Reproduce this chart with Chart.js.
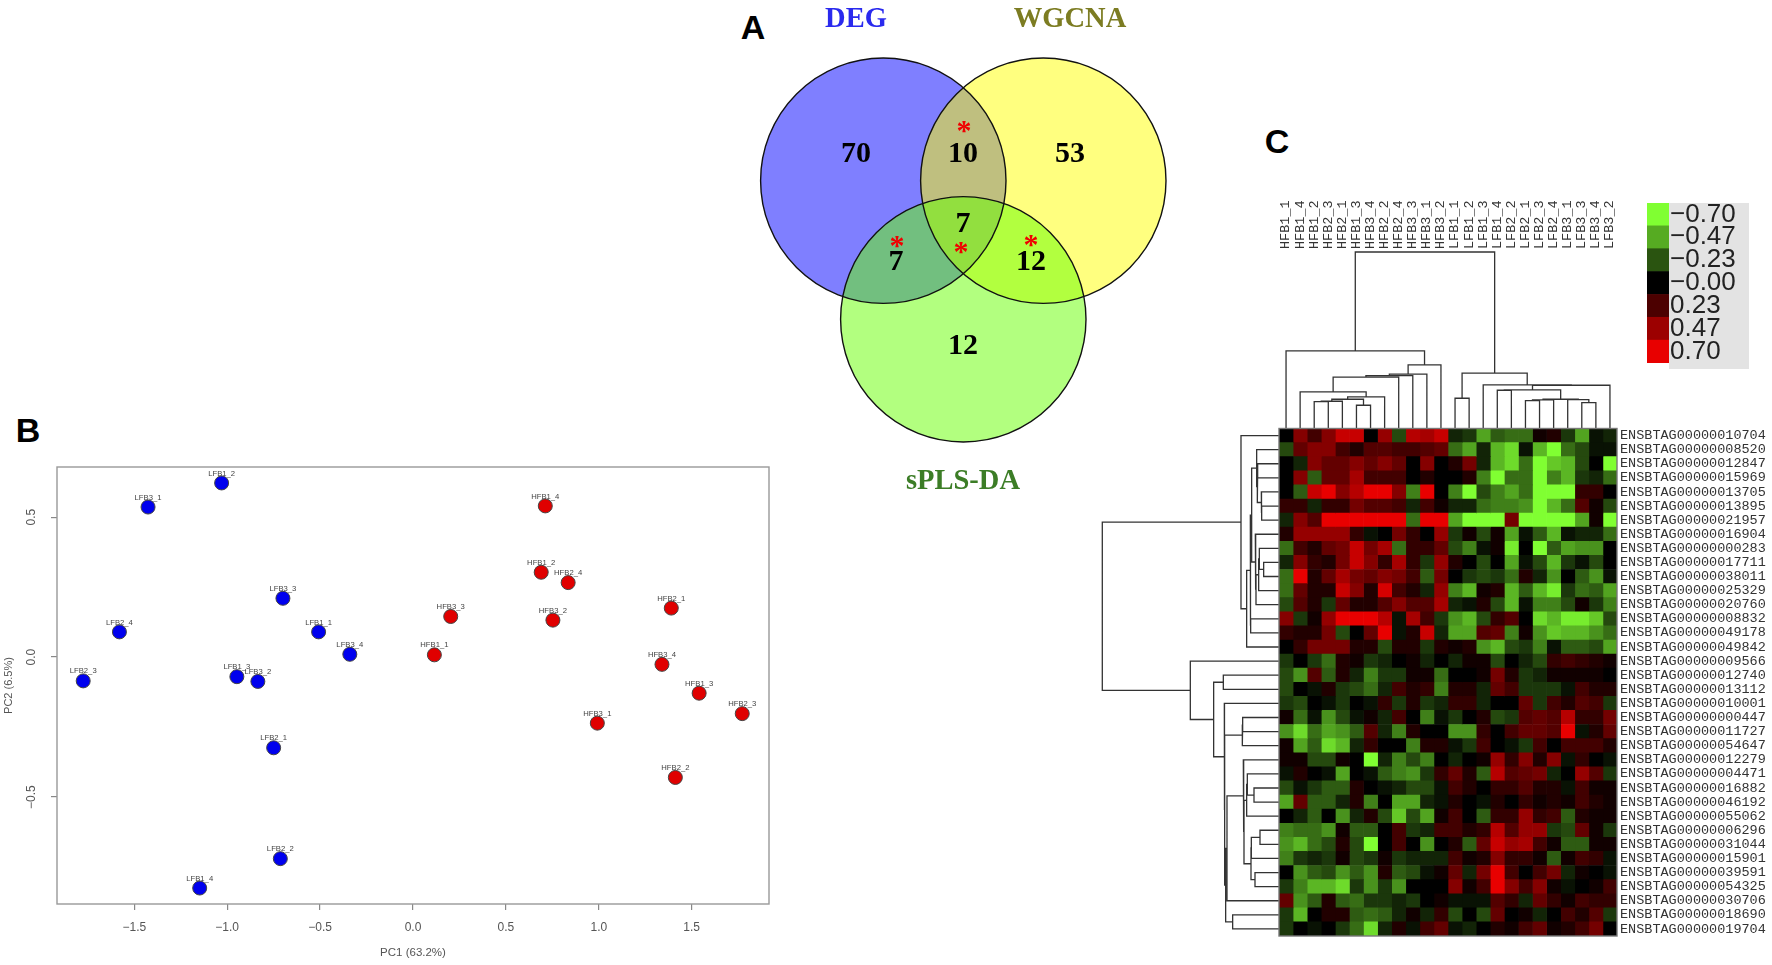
<!DOCTYPE html>
<html>
<head>
<meta charset="utf-8">
<script src="https://cdn.jsdelivr.net/npm/chart.js@4"></script>
<style>
html,body{margin:0;padding:0;background:#fff;}
#page{position:relative;width:1772px;height:965px;overflow:hidden;background:#fff;}
#page canvas{position:absolute;filter:blur(0.45px);}
.panel{position:absolute;font:bold 34px "Liberation Sans",Arial,sans-serif;color:#000;line-height:34px;transform:translate(-50%,-50%);}
#legendBack{position:absolute;left:1669px;top:203px;width:80px;height:166px;background:#e3e3e3;}
</style>
</head>
<body>
<div id="page">
<div class="panel" style="left:753px;top:27px">A</div>
<div class="panel" style="left:28px;top:430px">B</div>
<div class="panel" style="left:1277px;top:141px">C</div>
<div id="legendBack"></div>
<canvas id="scatter" width="790" height="525" style="left:0;top:440px"></canvas>
<canvas id="venn" width="480" height="500" style="left:720px;top:0"></canvas>
<canvas id="colTreeChart" width="357" height="240" style="left:1270px;top:190px"></canvas>
<canvas id="rowTreeChart" width="190" height="525" style="left:1092px;top:420px"></canvas>
<canvas id="heat" width="502" height="525" style="left:1270px;top:420px"></canvas>
<canvas id="legendChart" width="120" height="180" style="left:1640px;top:195px"></canvas>
</div>
<script>
// ---------- Panel B: PCA ----------
const lfbNames = ["LFB1_2","LFB3_1","LFB3_3","LFB2_4","LFB1_1","LFB3_4","LFB2_3","LFB1_3","LFB3_2","LFB2_1","LFB2_2","LFB1_4"];
const lfbPC1 = [-1.03,-1.426,-0.70,-1.58,-0.508,-0.34,-1.775,-0.948,-0.835,-0.75,-0.714,-1.148];
const lfbPC2 = [0.622,0.536,0.21,0.09,0.09,0.01,-0.085,-0.07,-0.087,-0.324,-0.72,-0.825];
const hfbNames = ["HFB1_4","HFB1_2","HFB2_4","HFB2_1","HFB3_3","HFB3_2","HFB1_1","HFB3_4","HFB1_3","HFB2_3","HFB3_1","HFB2_2"];
const hfbPC1 = [0.712,0.69,0.835,1.39,0.203,0.753,0.115,1.34,1.54,1.772,0.992,1.412];
const hfbPC2 = [0.54,0.303,0.266,0.175,0.145,0.132,0.008,-0.026,-0.129,-0.202,-0.236,-0.43];
const pc1Ticks = [-1.5,-1,-0.5,0,0.5,1,1.5];
const pc2Ticks = [-0.5,0,0.5];

// ---------- Panel A: Venn ----------
const vennSets = ["DEG","WGCNA","sPLS-DA"];
const vennCounts = [70,10,53,7,7,12,12];

// ---------- Panel C: heat map ----------
const sampleNames = ["HFB1_1","HFB1_4","HFB1_2","HFB2_3","HFB2_1","HFB1_3","HFB3_4","HFB2_2","HFB2_4","HFB3_3","HFB3_1","HFB3_2","LFB1_1","LFB1_2","LFB1_3","LFB1_4","LFB2_2","LFB2_1","LFB2_3","LFB2_4","LFB3_1","LFB3_3","LFB3_4","LFB3_2"];
const geneNames = ["ENSBTAG00000010704","ENSBTAG00000008520","ENSBTAG00000012847","ENSBTAG00000015969","ENSBTAG00000013705","ENSBTAG00000013895","ENSBTAG00000021957","ENSBTAG00000016904","ENSBTAG00000000283","ENSBTAG00000017711","ENSBTAG00000038011","ENSBTAG00000025329","ENSBTAG00000020760","ENSBTAG00000008832","ENSBTAG00000049178","ENSBTAG00000049842","ENSBTAG00000009566","ENSBTAG00000012740","ENSBTAG00000013112","ENSBTAG00000010001","ENSBTAG00000000447","ENSBTAG00000011727","ENSBTAG00000054647","ENSBTAG00000012279","ENSBTAG00000004471","ENSBTAG00000016882","ENSBTAG00000046192","ENSBTAG00000055062","ENSBTAG00000006296","ENSBTAG00000031044","ENSBTAG00000015901","ENSBTAG00000039591","ENSBTAG00000054325","ENSBTAG00000030706","ENSBTAG00000018690","ENSBTAG00000019704"];
// expression, in tenths, one row per gene, one column per sample
const expressionTenths = [
[0,4,2,4,6,6,0,4.5,-2,5.5,5,6,-1,-1.5,-4.5,-2.5,-3,-3,0.5,1,-1.5,-4.5,-0.5,-1],
[-2,3,4,4,2,1,2.5,2.5,2,2,2.5,3,-3,-4.5,-1,-5,-6,-0.5,-5,-7,-3,-2,-0.5,-0.5],
[0,-1,4,3,3,4,3,4,3,0,4,0,1,3.5,-1,-5,-6,-3,-7,-5.5,-5,-2,0,-7],
[0,4,-2.5,3,3,5,2,2,2,0,1,0,0,1,-3.5,-7,-3,-3,-7,-3.5,-5,-1.5,-1,-3],
[0,-2.5,6,7,4,5.5,7,7,4,-3.5,7,0,-3.5,-7,-2,-3.5,-4.5,-3,-7,-7,-7,1.5,1.5,0],
[1.5,1.5,-1,1.5,1.5,3.5,2.5,2.5,2,-1,2,0.5,-1,-1,-3,-3.5,-3.5,-4,-7,-5,-3,2.5,0.5,-2],
[-1,4,2.5,7,7,7,7,7,7,-3,7,7,-4.5,-7,-7,-7,3.5,-7,-7,-7,-7,-4.5,0.5,-7],
[1,4.5,4.5,4.5,4.5,1.5,-0.5,0,3.5,1.5,0,4.5,-1.5,0.5,-2,0.5,-4.5,-0.5,-2.5,-5,-0.5,-1,-1,-3],
[-3,2,1,3,3.5,6,3.5,5,-3,1.5,1.5,3,-2,-3.5,-0.5,0.5,-6.5,0,-7,-2.5,-4.5,-4,-4,0],
[-1,4,1.5,1,3.5,6,4,1.5,5,1.5,-1.5,4.5,1,0,-2,0,-4.5,-0.5,-2,-5,-1.5,-0.5,-2,0],
[-3,7,1,3,5,3.5,3,4,3.5,2,-2.5,3.5,0,-1.5,-2,-1.5,-3,1,-1,-4,0,-2.5,-4,-0.5],
[-3,3,1,1,6,4,1,6.5,2,1,-1,4.5,-3.5,-5,0.5,1,-5,-2.5,-5,-6.5,-1.5,-3,-2.5,-4.5],
[-2,2.5,1,-1.5,3,1,1,2.5,4,2.5,2.5,5,-1,-0.5,1,-2,-5,-0.5,-3.5,-3.5,-2,0.5,-1.5,-3.5],
[4,-1.5,0.5,4.5,7,7,7,5.5,-0.5,5,2,-1.5,-4,-5,-2,1.5,2.5,0,-6,-5,-6.5,-6.5,-5.5,-2],
[1.5,1,1,3.5,-2,0,3,7,-0.5,1,6,-1,-4.5,-4.5,2.5,3,-3.5,0.5,-4,-5.5,-5,-5,-4,-3],
[0,1.5,3.5,3.5,3.5,1,1,-2,1,1,-1.5,1,0.5,1,-4,-5,-2,-1.5,-3.5,-0.5,-2.5,-2.5,-2,-4.5],
[-1.5,0,-1.5,-3,1,0.5,-1.5,-1,0,0.5,-1,0,-1,0.5,0.5,-2,0,-1,-2,1.5,2,1.5,1,0.5],
[-2,-4,2.5,-2.5,1,-1,-3.5,-1.5,-1.5,0.5,0.5,-3,0,0,0.5,3.5,1,-1.5,-1,0.5,0.5,0.5,0.5,0],
[-2,0,-0.5,1,-1.5,-2,-3,-1,2,1,1.5,-3.5,1,1,-1,3,2,-1.5,-1.5,-1.5,-0.5,2,1,1],
[-1.5,-2,0,-0.5,-1.5,0,-0.5,1.5,-1.5,1,-1.5,-1,1.5,1.5,-1,0,0,3,-1.5,2,1,2.5,2,-1.5],
[0.5,-3,-0.5,-4,-2,-0.5,0.5,-1,2,0,-3.5,-0.5,-1.5,0,1,-2,-1.5,2.5,3,2.5,5.5,1.5,1.5,3.5],
[-4,-6,-3,-4.5,-4,-2.5,2.5,-1,-3.5,1,0,0,-4,-4,1.5,0,2,3,3,2.5,7,-0.5,1,3],
[0.5,-4.5,-2.5,-6,-5,-1,1.5,0,0,-3.5,1,1,-0.5,-1.5,2,0,-0.5,-1.5,2,0,2,2,2,1],
[0.5,0.5,-2,-2,0.5,0,-7,-1,-3.5,-2,-3.5,0,-1,0,0.5,4.5,1.5,4,1,4,-0.5,1.5,0,-0.5],
[-0.5,1,0,-0.5,-4.5,0,-0.5,-2.5,-3.5,-4,-1.5,1.5,3,1,-2.5,5.5,2.5,3,3.5,-1,0,4.5,2.5,-1.5],
[-2,-0.5,-1.5,-2.5,-2.5,1,0,-0.5,-1,-2,-2,-0.5,2,1,0,1.5,1.5,2.5,1,1,-0.5,2,0.5,0.5],
[-4.5,3,-2.5,-2.5,-1,1,-3.5,0,-4.5,-4.5,-1,-0.5,1,0,-0.5,1,0,1.5,0.5,1,0.5,2,1,0.5],
[0,-1,-2.5,0,-4,-1,1,-2,-5.5,-2,-4.5,0.5,2,0,-2.5,1.5,1.5,4.5,1.5,2,-2.5,1,0.5,0.5],
[-3.5,-3,-3,-4,0.5,-2.5,-2.5,0,2,-1.5,-1,2,2,1,1.5,5.5,2.5,4.5,4.5,-1.5,-2,3,0.5,-1.5],
[-4,-5,-3,-2,1,-2,-7,0,2,0,-4,0,1,-2.5,3,6,4.5,5,2,0.5,-2.5,-2.5,0.5,0.5],
[-3.5,-1.5,-1,-1.5,0.5,-2,-1.5,0.5,-1.5,-1,-1,-1,2,0.5,1,4,1.5,1.5,0.5,-2.5,0.5,2,1.5,-0.5],
[0,-4,-2.5,-2,-4,-2.5,-4,1,-2.5,-2,-0.5,0.5,3,-1,3.5,7,2,0,2,3.5,-1,0.5,0,-0.5],
[-1.5,-3.5,-5,-5,-6,-1.5,-4,-1.5,-4,0,0,0,4,0.5,2,7,4,2,4,0.5,-0.5,0,0.5,2],
[3,-4,-2.5,1,-2.5,-3,-1.5,-1.5,-1,-1.5,0,0.5,-0.5,-0.5,-0.5,2.5,1.5,-1,3,1.5,0.5,2,1.5,1.5],
[-1.5,-5,0,1,1,-2.5,-3,-2.5,-1,0.5,-1,1.5,-2,0,-2,3,0,0.5,-1,0,2,1,2.5,-1.5],
[-1.5,0,-0.5,0,-1.5,-3,-6,-1,1,-0.5,2,3,-0.5,-1,0,1,0.5,2,3,0.5,1,2,3.5,0]
];
const legendLevels = [-0.70,-0.47,-0.23,0,0.23,0.47,0.70];
const legendLabels = ["\u22120.70","\u22120.47","\u22120.23","\u22120.00","0.23","0.47","0.70"];

// dendrograms: [height, left, right]; a bare number is a leaf index
const colTree = [528,
  [232,0,[190,[162,[158,[153,[109,1,[94,[87,[81,[80,2,3],4],[69,5,6]],7]],8],9],10],11]],
  [165,[90,12,13],[130,14,[129,[115,[114,15,16],[87,[85,[83,17,18],19],[86,20,[77,21,22]]]],23]]]
];
const rowTree = [530,
  [114,0,[97,[86,
    [82,[67,1,[65,[64,2,3],[53,4,[52,5,6]]]],[71,7,[69,[61,[59,8,[46,9,10]],11],12]]],
    [85,13,14]],15]],
  [266,16,[196,[167,17,18],
    [164,19,[163,[110,[109,20,21],22],[160,
      [156,[107,23,[105,
        [97,[95,24,[75,25,26]],27],
        [84,[83,[57,28,29],30],[72,31,32]]]],33],
      [139,34,35]]]]]]
];

// ---------- helpers ----------
Chart.defaults.animation = false;
Chart.defaults.devicePixelRatio = 1;
Chart.defaults.responsive = false;
Chart.defaults.events = [];
Chart.defaults.layout.autoPadding = false;
Chart.defaults.plugins.legend.display = false;
Chart.defaults.plugins.tooltip.enabled = false;

function levelColor(v){
  const t = Math.min(1,Math.abs(v)/0.7);
  return v >= 0 ? `rgb(${Math.round(232*t)},0,0)`
                : `rgb(${Math.round(128*t)},${Math.round(255*t)},${Math.round(50*t)})`;
}
function treeLines(tree, toPoint){
  const pts = [];
  (function walk(n){
    if (typeof n === 'number') return {pos:n,h:0};
    const a = walk(n[1]), b = walk(n[2]), h = n[0];
    pts.push(toPoint(a.pos,a.h),toPoint(a.pos,h),toPoint(b.pos,h),toPoint(b.pos,b.h),{x:NaN,y:NaN});
    return {pos:(a.pos+b.pos)/2,h};
  })(tree);
  return pts;
}
const framePlugin = color => ({id:'frame',afterDatasetsDraw(c){
  const a=c.chartArea,x=c.ctx;x.save();x.strokeStyle=color;x.lineWidth=1.4;
  x.strokeRect(a.left,a.top,a.right-a.left,a.bottom-a.top);x.restore();}});
const hiddenAxis = (min,max,extra={}) => ({type:'linear',display:false,min,max,...extra});

// ---------- Panel B ----------
const toXY = (xs,ys) => xs.map((x,i)=>({x,y:ys[i]}));
const minusFmt = v => (v<0?'\u2212':'')+Math.abs(v).toFixed(1);
const pointNames = [lfbNames,hfbNames];
new Chart(document.getElementById('scatter'),{
  type:'scatter',
  data:{datasets:[
    {data:toXY(lfbPC1,lfbPC2),backgroundColor:'#0000ee',borderColor:'#444',borderWidth:1,pointRadius:7},
    {data:toXY(hfbPC1,hfbPC2),backgroundColor:'#e00000',borderColor:'#444',borderWidth:1,pointRadius:7}
  ]},
  options:{
    layout:{padding:{top:27,right:21,left:0,bottom:0}},
    scales:{
      x:{min:-1.916,max:1.916,
        afterBuildTicks(s){s.ticks=pc1Ticks.map(value=>({value}));},
        afterFit(s){s.height=61;},
        grid:{drawOnChartArea:false,tickLength:6,color:'#888',lineWidth:1.2},border:{display:false},
        ticks:{callback:minusFmt,font:{family:'"Liberation Sans"',size:12},color:'#555',padding:10,maxRotation:0,autoSkip:false},
        title:{display:true,text:'PC1 (63.2%)',font:{family:'"Liberation Sans"',size:11.5},color:'#555',padding:{top:7,bottom:5}}},
      y:{min:-0.882,max:0.679,
        afterBuildTicks(s){s.ticks=pc2Ticks.map(value=>({value}));},
        afterFit(s){s.width=57;},
        grid:{drawOnChartArea:false,tickLength:6,color:'#888',lineWidth:1.2},border:{display:false},
        ticks:{callback:minusFmt,font:{family:'"Liberation Sans"',size:12},color:'#555',padding:7,minRotation:90,maxRotation:90,crossAlign:'center'},
        title:{display:true,text:'PC2 (6.5%)',font:{family:'"Liberation Sans"',size:11},color:'#555',padding:{top:2,bottom:0}}}
    }
  },
  plugins:[framePlugin('#999'),{id:'pointNames',afterDatasetsDraw(c){
    const x=c.ctx;x.save();x.font='7.7px "Liberation Sans"';x.fillStyle='#444';x.textAlign='center';x.textBaseline='middle';
    pointNames.forEach((names,d)=>c.getDatasetMeta(d).data.forEach((p,i)=>x.fillText(names[i],p.x,p.y-9.5)));
    x.restore();}}]
});

// ---------- Panel A ----------
const vennFill = ['rgba(0,0,255,0.5)','rgba(255,255,0,0.5)','rgba(102,255,0,0.5)'];
const vennColor = ['#2a2aee','#7c7c22','#3c7d26'];
const vennCircles = [{x:163.3,y:180.7,r:122.7},{x:323.3,y:180.7,r:122.7},{x:243.3,y:319.3,r:122.7}];
const vennTitleAt = [[136,20],[350,20],[243,482]];
const vennCountAt = [[136,154],[243,154],[350,154],[243,224],[176,262],[311,262],[243,346]];
const vennStarAt = [[244,126],[177,241],[241,247],[311,240]];
new Chart(document.getElementById('venn'),{
  type:'bubble',
  data:{datasets:[
    ...vennCircles.map((c,i)=>({data:[c],backgroundColor:vennFill[i],borderWidth:0,order:10-i})),
    ...vennCircles.map(c=>({data:[c],backgroundColor:'rgba(0,0,0,0)',borderColor:'#111',borderWidth:1.4,order:0}))
  ]},
  options:{layout:{padding:0},clip:false,
    scales:{x:hiddenAxis(0,480),y:hiddenAxis(0,500,{reverse:true})}},
  plugins:[{id:'vennText',afterDatasetsDraw(c){
    const x=c.ctx,sx=c.scales.x,sy=c.scales.y;x.save();x.textAlign='center';x.textBaseline='middle';
    x.font='bold 28.5px "Liberation Serif"';
    vennSets.forEach((t,i)=>{x.fillStyle=vennColor[i];x.fillText(t,sx.getPixelForValue(vennTitleAt[i][0]),sy.getPixelForValue(vennTitleAt[i][1]));});
    x.fillStyle='#000';x.font='bold 30px "Liberation Serif"';
    vennCounts.forEach((t,i)=>x.fillText(String(t),sx.getPixelForValue(vennCountAt[i][0]),sy.getPixelForValue(vennCountAt[i][1])));
    x.fillStyle='#f00000';x.font='bold 30px "Liberation Serif"';
    vennStarAt.forEach(p=>x.fillText('*',sx.getPixelForValue(p[0]),sy.getPixelForValue(p[1])+6));
    x.restore();}}]
});

// ---------- Panel C: sample dendrogram and labels ----------
const treeLineStyle = {showLine:true,borderColor:'#333',borderWidth:1.3,pointRadius:0,spanGaps:false,tension:0,clip:false};
new Chart(document.getElementById('colTreeChart'),{
  type:'scatter',
  data:{datasets:[{data:treeLines(colTree,(pos,h)=>({x:pos,y:h})),...treeLineStyle}]},
  options:{layout:{padding:{left:9,right:10,top:0,bottom:1.7}},
    scales:{
      x:{type:'linear',position:'top',min:-0.5,max:23.5,
        afterBuildTicks(s){s.ticks=sampleNames.map((_,value)=>({value}));},
        afterFit(s){s.height=62;},
        grid:{display:false,drawTicks:false},border:{display:false},
        ticks:{callback:v=>sampleNames[v],autoSkip:false,minRotation:90,maxRotation:90,padding:3,
          font:{family:'"Liberation Mono"',size:13.5,lineHeight:0.01},color:'#333'}},
      y:hiddenAxis(0,528)}}
});

// ---------- Panel C: gene dendrogram ----------
new Chart(document.getElementById('rowTreeChart'),{
  type:'scatter',
  data:{datasets:[{data:treeLines(rowTree,(pos,h)=>({x:h,y:pos})),...treeLineStyle}]},
  options:{layout:{padding:{left:10.3,right:3,top:8.5,bottom:9}},
    scales:{x:hiddenAxis(0,530,{reverse:true}),y:hiddenAxis(-0.5,35.5,{reverse:true})}}
});

// ---------- Panel C: heat map ----------
new Chart(document.getElementById('heat'),{
  type:'bar',
  data:{labels:geneNames,datasets:sampleNames.map((name,c)=>({
    label:name,
    data:geneNames.map(()=>1),
    backgroundColor:expressionTenths.map(row=>levelColor(row[c]/10)),
    barPercentage:1,categoryPercentage:1,borderWidth:0
  }))},
  options:{indexAxis:'y',
    layout:{padding:{left:9,top:8.5,bottom:9,right:0}},
    scales:{
      x:{type:'linear',display:false,stacked:true,min:0,max:24},
      y:{type:'category',position:'right',stacked:true,afterFit(s){s.width=155;},
        grid:{display:false,drawTicks:false},border:{display:false},
        ticks:{autoSkip:false,padding:3,font:{family:'"Liberation Mono"',size:13.5,lineHeight:0.01},color:'#333'}}
    }},
  plugins:[framePlugin('#777')]
});

// ---------- Panel C: colour key ----------
new Chart(document.getElementById('legendChart'),{
  type:'bar',
  data:{labels:legendLabels,datasets:[{data:legendLevels.map(()=>1),backgroundColor:legendLevels.map(levelColor),
    barPercentage:1,categoryPercentage:1,borderWidth:0}]},
  options:{indexAxis:'y',
    layout:{padding:{left:7,top:8,bottom:12,right:0}},
    scales:{
      x:{type:'linear',display:false,min:0,max:1},
      y:{type:'category',position:'right',afterFit(s){s.width=91;},
        grid:{display:false,drawTicks:false},border:{display:false},
        ticks:{autoSkip:false,padding:1,font:{family:'"Liberation Sans"',size:26,lineHeight:0.01},color:'#222'}}
    }}
});
</script>
</body>
</html>
